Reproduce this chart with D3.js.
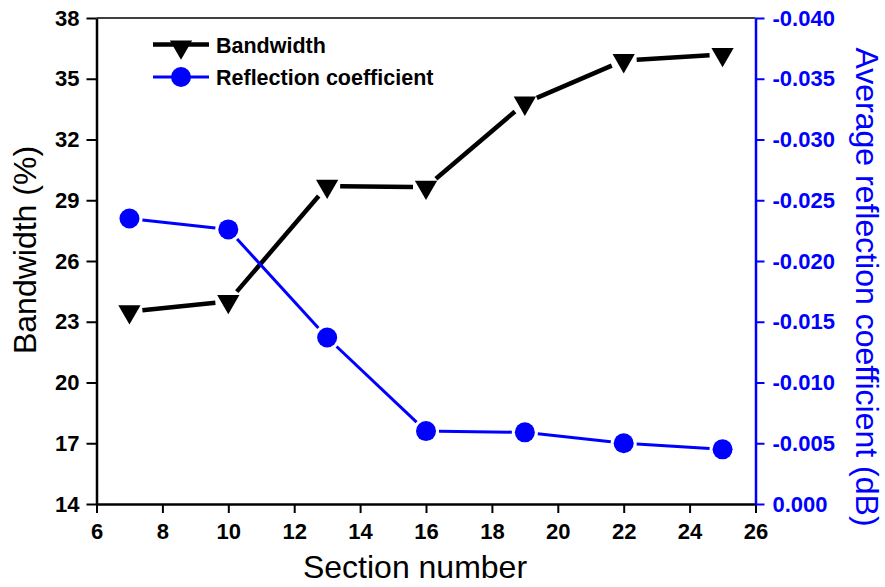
<!DOCTYPE html>
<html>
<head>
<meta charset="utf-8">
<script src="https://cdn.jsdelivr.net/npm/d3@7"></script>
<style>
  body { margin: 0; background: #fff; }
  svg { display: block; font-family: "Liberation Sans", Arial, sans-serif; }
</style>
</head>
<body>
<svg id="chart" width="885" height="587"></svg>
<script>
// data
const sections = [7, 10, 13, 16, 19, 22, 25];
const bandwidth = [23.5, 24.0, 29.7, 29.65, 33.8, 35.9, 36.2];
const reflection = [-0.0235, -0.0226, -0.0137, -0.0060, -0.0059, -0.0050, -0.0045];

const xTicks = [6, 8, 10, 12, 14, 16, 18, 20, 22, 24, 26];
const leftTicks = [14, 17, 20, 23, 26, 29, 32, 35, 38];
const rightTicks = [0, -0.005, -0.010, -0.015, -0.020, -0.025, -0.030, -0.035, -0.040];
const rightTickLabels = ["0.000", "-0.005", "-0.010", "-0.015", "-0.020", "-0.025", "-0.030", "-0.035", "-0.040"];

const blue = "#0000ff";
const svg = d3.select("#chart");

const plotL = 96.5, plotR = 755.5, plotT = 18, plotB = 504;
const x = d3.scaleLinear().domain([6, 26]).range([plotL, plotR]);
const yL = d3.scaleLinear().domain([14, 38]).range([plotB, plotT]);
const yR = d3.scaleLinear().domain([0, -0.04]).range([plotB, plotT]);

// top frame line
svg.append("line")
  .attr("x1", plotL).attr("x2", plotR).attr("y1", plotT).attr("y2", plotT)
  .attr("stroke", "#000").attr("stroke-width", 1.5);

// axes
const styleAxis = (g, color, width) => {
  g.select(".domain").attr("stroke", color).attr("stroke-width", width);
  g.selectAll(".tick line").attr("stroke", color).attr("stroke-width", 2);
  g.selectAll(".tick text")
    .attr("fill", color)
    .style("font-size", "22px")
    .style("font-weight", "bold")
    .style("font-family", "'Liberation Sans', Arial, sans-serif");
};

svg.append("g")
  .attr("transform", "translate(0," + plotB + ")")
  .call(d3.axisBottom(x).tickValues(xTicks).tickFormat(d3.format("d"))
    .tickSize(9).tickSizeOuter(0).tickPadding(10))
  .call(g => styleAxis(g, "#000", 2.5));

svg.append("g")
  .attr("transform", "translate(" + plotL + ",0)")
  .call(d3.axisLeft(yL).tickValues(leftTicks).tickFormat(d3.format("d"))
    .tickSize(10).tickSizeOuter(0).tickPadding(7))
  .call(g => styleAxis(g, "#000", 2.5));

svg.append("g")
  .attr("transform", "translate(" + plotR + ",0)")
  .call(d3.axisRight(yR).tickValues(rightTicks).tickFormat((d, i) => rightTickLabels[i])
    .tickSize(9).tickSizeOuter(0).tickPadding(8))
  .call(g => styleAxis(g, blue, 2.5));

// axis titles
svg.append("text")
  .attr("x", 415).attr("y", 578)
  .attr("text-anchor", "middle")
  .style("font-size", "32px")
  .text("Section number");

svg.append("text")
  .attr("transform", "translate(36,250) rotate(-90)")
  .attr("text-anchor", "middle")
  .style("font-size", "32px")
  .text("Bandwidth (%)");

svg.append("text")
  .attr("transform", "translate(856,287) rotate(90)")
  .attr("text-anchor", "middle")
  .attr("fill", blue)
  .style("font-size", "32px")
  .text("Average reflection coefficient (dB)");

// segments with gaps around markers
const drawSeries = (vals, yScale, color, width, gap) => {
  const pts = sections.map((s, i) => [x(s), yScale(vals[i])]);
  const segs = d3.pairs(pts).map(([a, b]) => {
    const dx = b[0] - a[0], dy = b[1] - a[1];
    const len = Math.hypot(dx, dy);
    const ux = dx / len, uy = dy / len;
    return [a[0] + ux * gap, a[1] + uy * gap, b[0] - ux * gap, b[1] - uy * gap];
  });
  svg.append("g").selectAll("line").data(segs).join("line")
    .attr("x1", d => d[0]).attr("y1", d => d[1])
    .attr("x2", d => d[2]).attr("y2", d => d[3])
    .attr("stroke", color).attr("stroke-width", width);
  return pts;
};

const triangle = d3.symbol().type(d3.symbolTriangle).size(215);

const bwPts = drawSeries(bandwidth, yL, "#000", 4.5, 13);
svg.append("g").selectAll("path").data(bwPts).join("path")
  .attr("d", triangle)
  .attr("transform", d => "translate(" + d[0] + "," + d[1] + ") rotate(180)")
  .attr("fill", "#000");

const rcPts = drawSeries(reflection, yR, blue, 3, 13);
svg.append("g").selectAll("circle").data(rcPts).join("circle")
  .attr("cx", d => d[0]).attr("cy", d => d[1]).attr("r", 10)
  .attr("fill", blue);

// legend
const legend = svg.append("g");
legend.append("line").attr("x1", 153).attr("x2", 209).attr("y1", 44.5).attr("y2", 44.5)
  .attr("stroke", "#000").attr("stroke-width", 4.5);
legend.append("path").attr("d", triangle)
  .attr("transform", "translate(181,47) rotate(180)").attr("fill", "#000");
legend.append("text").attr("x", 216).attr("y", 53)
  .style("font-size", "21.5px").style("font-weight", "bold").text("Bandwidth");

legend.append("line").attr("x1", 153).attr("x2", 209).attr("y1", 77).attr("y2", 77)
  .attr("stroke", blue).attr("stroke-width", 3);
legend.append("circle").attr("cx", 181).attr("cy", 77).attr("r", 10).attr("fill", blue);
legend.append("text").attr("x", 216).attr("y", 85)
  .style("font-size", "21.5px").style("font-weight", "bold").text("Reflection coefficient");
</script>
</body>
</html>
